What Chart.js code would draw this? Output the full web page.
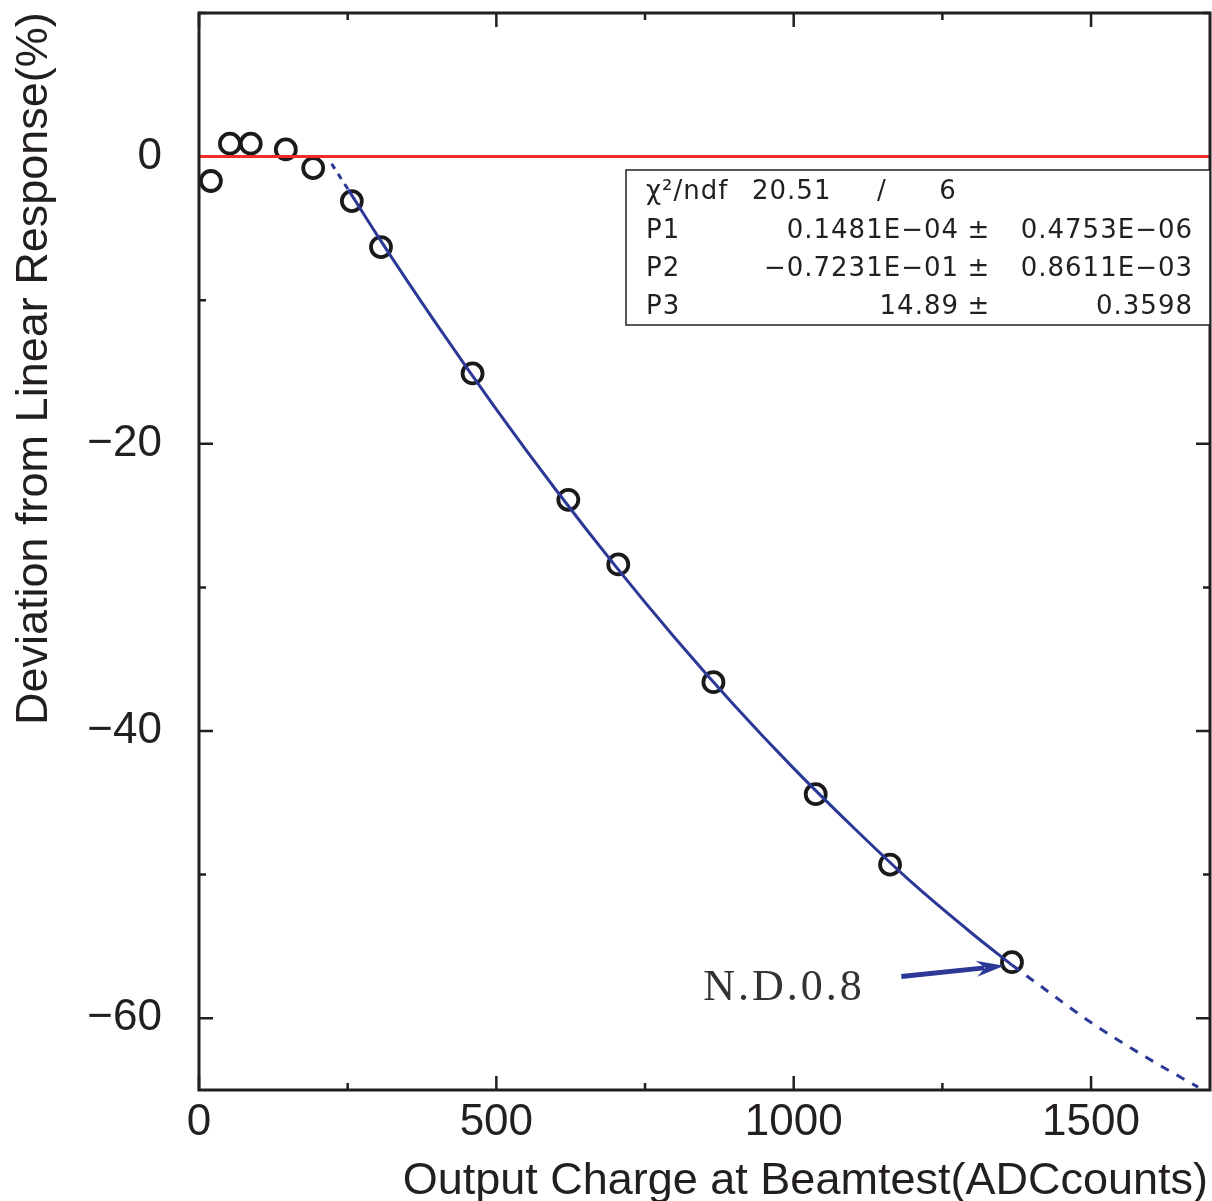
<!DOCTYPE html>
<html>
<head>
<meta charset="utf-8">
<script src="https://cdn.jsdelivr.net/npm/chart.js@4.4.0/dist/chart.umd.min.js"></script>
<style>
  html, body { margin: 0; padding: 0; background: #fff; }
  #wrap { width: 1212px; height: 1201px; }
</style>
</head>
<body>
<div id="wrap"><canvas id="myChart" width="1212" height="1201"></canvas></div>
<script>
const adcX = [20, 52, 87, 146, 192, 257, 306, 460, 621, 705, 865, 1037, 1162, 1367];
const devY = [-1.7, 0.9, 0.9, 0.5, -0.8, -3.1, -6.3, -15.1, -23.9, -28.4, -36.6, -44.4, -49.3, -56.1];

// ===== Fit curve as drawn (solid inside the fit range, dashed outside) =====
const fitLeftX  = [223, 240, 251];
const fitLeftY  = [-0.5, -1.6, -2.3];
const fitMidX   = [251, 300, 400, 500, 600, 700, 800, 900, 1000, 1100, 1200, 1300, 1367];
const fitMidY   = [-2.3, -5.5, -11.7, -17.6, -23.2, -28.5, -33.5, -38.2, -42.6, -46.7, -50.6, -54.1, -56.3];
const fitRightX = [1367, 1400, 1500, 1600, 1680];
const fitRightY = [-56.3, -57.3, -60.3, -62.9, -64.8];

// ===== Zero reference line =====
const refX = [0, 1700];
const refY = [0, 0];

// ===== Axis ranges / tick labels =====
const xMin = 0, xMax = 1700;
const yMin = -65, yMax = 10;
const xTicks = [0, 500, 1000, 1500];
const yTicks = [-60, -40, -20, 0];
const xMinor = 250, yMinor = 10;

// ===== Fit box text =====
const fitRows = [
  ["P1", "0.1481E\u221204", "0.4753E\u221206"],
  ["P2", "\u22120.7231E\u221201", "0.8611E\u221203"],
  ["P3", "14.89", "0.3598"]
];
const chiText = ["20.51", "/", "6"];

// ===== Annotation (data units) =====
const noteText = "N.D.0.8";
const noteAt = [848, -58.7];
const arrowFrom = [1181, -57.1];
const arrowTo = [1354, -56.35];

const toXY = (xs, ys) => xs.map((v, i) => ({x: v, y: ys[i]}));
const minus = v => (v < 0 ? "\u2212" + Math.abs(v) : String(v));

const INK = "#231f20";
const BLUE = "#2b3896";

// ===== Inward ticks on all four sides (drawn under the data) =====
const ticksIn = {
  id: "ticksIn",
  beforeDatasetsDraw(chart) {
    const {ctx, chartArea: a, scales: {x, y}} = chart;
    ctx.save();
    ctx.strokeStyle = INK;
    ctx.lineWidth = 2.5;
    ctx.beginPath();
    for (let v = xMin; v <= xMax; v += xMinor) {
      const px = x.getPixelForValue(v);
      const len = xTicks.includes(v) ? 14 : 7;
      ctx.moveTo(px, a.bottom); ctx.lineTo(px, a.bottom - len);
      ctx.moveTo(px, a.top); ctx.lineTo(px, a.top + len);
    }
    for (let v = -60; v <= yMax; v += yMinor) {
      const py = y.getPixelForValue(v);
      const len = yTicks.includes(v) ? 14 : 7;
      ctx.moveTo(a.left, py); ctx.lineTo(a.left + len, py);
      ctx.moveTo(a.right, py); ctx.lineTo(a.right - len, py);
    }
    ctx.stroke();
    ctx.restore();
  }
};

// ===== Frame, titles, fit box, annotation =====
const decor = {
  id: "decor",
  afterDatasetsDraw(chart) {
    const {ctx, chartArea: a, scales: {x, y}} = chart;
    ctx.save();

    // frame
    ctx.strokeStyle = INK;
    ctx.lineWidth = 3;
    ctx.strokeRect(a.left, a.top, a.right - a.left, a.bottom - a.top);

    // axis titles
    ctx.fillStyle = INK;
    ctx.font = "45px 'Liberation Sans'";
    ctx.textAlign = "right";
    ctx.textBaseline = "alphabetic";
    ctx.fillText("Output Charge at Beamtest(ADCcounts)", a.right - 2, 1194);
    ctx.save();
    ctx.translate(47, 725);
    ctx.rotate(-Math.PI / 2);
    ctx.textAlign = "left";
    ctx.fillText("Deviation from Linear Response(%)", 0, 0);
    ctx.restore();

    // fit statistics box
    const bx = 626, by = 170, bw = a.right - bx, bh = 155;
    ctx.fillStyle = "#fff";
    ctx.fillRect(bx, by, bw, bh);
    ctx.strokeStyle = INK;
    ctx.lineWidth = 1.5;
    ctx.strokeRect(bx, by, bw, bh);
    ctx.fillStyle = INK;
    ctx.font = "26px 'DejaVu Sans'";
    ctx.letterSpacing = "1px";
    ctx.textAlign = "left";
    ctx.fillText("\u03c7\u00b2/ndf", 646, 199);
    ctx.fillText(chiText[0], 752, 199);
    ctx.textAlign = "center";
    ctx.fillText(chiText[1], 882, 199);
    ctx.fillText(chiText[2], 948, 199);
    fitRows.forEach((r, i) => {
      const base = 238 + i * 38;
      ctx.textAlign = "left";
      ctx.fillText(r[0], 646, base);
      ctx.textAlign = "right";
      ctx.fillText(r[1], 959, base);
      ctx.textAlign = "center";
      ctx.fillText("\u00b1", 979, base);
      ctx.textAlign = "right";
      ctx.fillText(r[2], 1193, base);
    });

    // N.D.0.8 annotation with arrow
    ctx.letterSpacing = "3px";
    ctx.font = "44px 'Liberation Serif'";
    ctx.textAlign = "left";
    ctx.fillStyle = "#333";
    ctx.fillText(noteText, x.getPixelForValue(noteAt[0]), y.getPixelForValue(noteAt[1]));
    ctx.letterSpacing = "0px";

    const x0 = x.getPixelForValue(arrowFrom[0]), y0 = y.getPixelForValue(arrowFrom[1]);
    const x1 = x.getPixelForValue(arrowTo[0]), y1 = y.getPixelForValue(arrowTo[1]);
    const ang = Math.atan2(y1 - y0, x1 - x0);
    const head = 28, half = 8;
    const hx = x1 - head * Math.cos(ang), hy = y1 - head * Math.sin(ang);
    ctx.strokeStyle = BLUE;
    ctx.fillStyle = BLUE;
    ctx.lineWidth = 5;
    ctx.beginPath();
    ctx.moveTo(x0, y0);
    ctx.lineTo(hx + 8 * Math.cos(ang), hy + 8 * Math.sin(ang));
    ctx.stroke();
    ctx.beginPath();
    ctx.moveTo(x1, y1);
    ctx.lineTo(hx - half * Math.sin(ang), hy + half * Math.cos(ang));
    ctx.lineTo(hx + 9 * Math.cos(ang), hy + 9 * Math.sin(ang));
    ctx.lineTo(hx + half * Math.sin(ang), hy - half * Math.cos(ang));
    ctx.closePath();
    ctx.fill();

    ctx.restore();
  }
};

// ===== Chart.js Initialization =====
const ctx = document.getElementById("myChart").getContext("2d");

const fitLine = {
  type: "line",
  showLine: true,
  borderColor: BLUE,
  borderWidth: 3,
  pointRadius: 0,
  cubicInterpolationMode: "monotone",
  fill: false
};

const chart = new Chart(ctx, {
  type: "scatter",
  data: {
    datasets: [
      { label: "zero", type: "line", data: toXY(refX, refY), borderColor: "#f42a2a", borderWidth: 3, pointRadius: 0, fill: false },
      Object.assign({}, fitLine, { label: "fit-left", data: toXY(fitLeftX, fitLeftY), borderDash: [6, 6] }),
      Object.assign({}, fitLine, { label: "fit", data: toXY(fitMidX, fitMidY) }),
      Object.assign({}, fitLine, { label: "fit-right", data: toXY(fitRightX, fitRightY), borderDash: [9, 9] }),
      {
        label: "data",
        data: toXY(adcX, devY),
        pointStyle: "circle",
        pointRadius: 10,
        pointHoverRadius: 10,
        pointBorderWidth: 3.8,
        pointBorderColor: "#1a1a1a",
        pointBackgroundColor: "rgba(0,0,0,0)"
      }
    ]
  },
  options: {
    responsive: false,
    animation: false,
    events: [],
    layout: { autoPadding: false, padding: { top: 13, right: 2, left: 0, bottom: 0 } },
    plugins: { legend: { display: false }, tooltip: { enabled: false } },
    scales: {
      x: {
        type: "linear",
        min: xMin, max: xMax,
        grid: { display: false, drawTicks: false },
        border: { display: false },
        ticks: {
          autoSkip: false, maxRotation: 0,
          padding: 6, color: INK, font: { family: "Liberation Sans", size: 44 },
          callback: v => minus(v)
        },
        afterBuildTicks: s => { s.ticks = xTicks.map(v => ({value: v})); },
        afterFit: s => { s.height = 111; s.paddingLeft = 0; s.paddingRight = 0; }
      },
      y: {
        type: "linear",
        min: yMin, max: yMax,
        grid: { display: false, drawTicks: false },
        border: { display: false },
        ticks: {
          autoSkip: false,
          padding: 37, color: INK, font: { family: "Liberation Sans", size: 44 },
          callback: v => minus(v)
        },
        afterBuildTicks: s => { s.ticks = yTicks.map(v => ({value: v})); },
        afterFit: s => { s.width = 199; s.paddingTop = 0; s.paddingBottom = 0; }
      }
    }
  },
  plugins: [ticksIn, decor]
});
</script>
</body>
</html>
